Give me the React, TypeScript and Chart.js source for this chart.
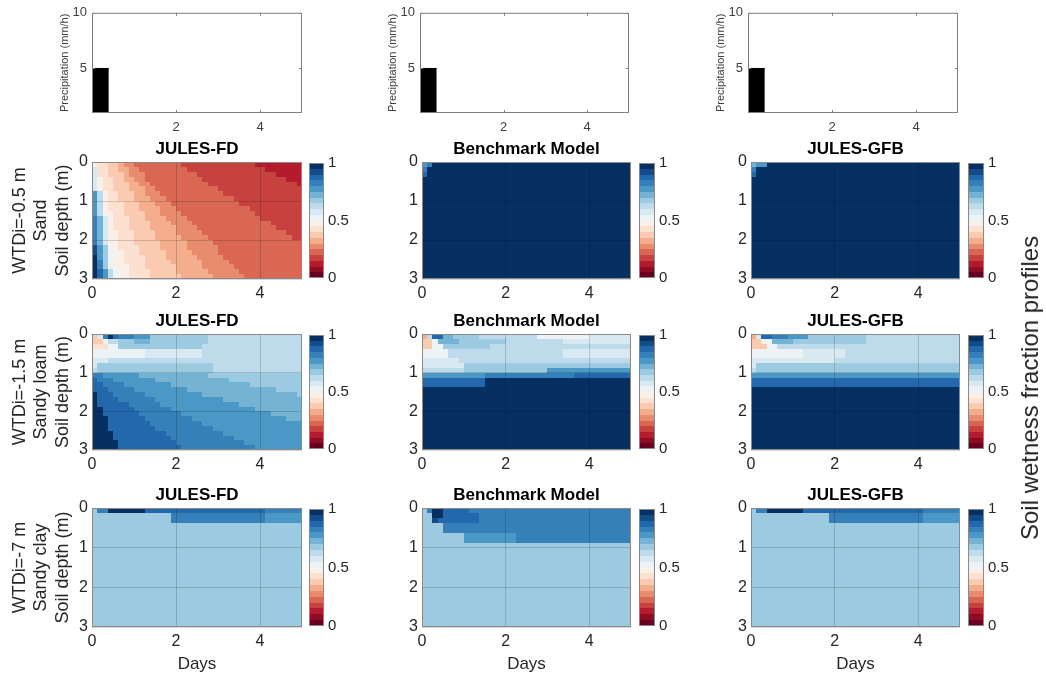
import React, { useEffect, useRef } from 'react';
import { Chart, registerables } from 'chart.js';

Chart.register(...registerables);

const FONT = '"Liberation Sans", Arial, Helvetica, sans-serif';

// ---------------- data ----------------
const DAYS_MAX = 5;
const DEPTH_MAX = 3;
const DAY_TICKS = [0, 2, 4];
const DEPTH_TICKS = [0, 1, 2, 3];
const COLORBAR_TICKS = [0, 0.5, 1];

const PRECIP_DAYS = [0, 0.4];
const PRECIP_MM_H = [5, 5];
const PRECIP_DAY_TICKS = [2, 4];
const PRECIP_TICKS = [5, 10];
const PRECIP_MIN = 1;
const PRECIP_MAX = 10;

const MODEL_TITLES = ['JULES-FD', 'Benchmark Model', 'JULES-GFB'];
const ROW_LABELS = [
  ['WTDi=-0.5 m', 'Sand', 'Soil depth (m)'],
  ['WTDi=-1.5 m', 'Sandy loam', 'Soil depth (m)'],
  ['WTDi=-7 m', 'Sandy clay', 'Soil depth (m)'],
];
const RIGHT_LABEL = 'Soil wetness fraction profiles';
const X_LABEL = 'Days';
const PRECIP_LABEL = 'Precipitation (mm/h)';

// 20-class red-blue colour scale, class a = 0-0.05 ... class t = 0.95-1
const RDBU_20 = [
  '#67001f', '#8e0d25', '#b41c2d', '#c7423f', '#d96753', '#e98c6e', '#f5ae8d', '#facab1', '#fce1d1', '#f9f0ea',
  '#edf2f5', '#d9e9f1', '#bddbea', '#9ccae1', '#75b3d4', '#4b98c6', '#3580b9', '#2368ad', '#144c88', '#053061',
];

// Soil wetness classes: one string per 0.125 m depth row (top to bottom),
// run-length coded as <class letter><number of 0.125-day cells>.
const SAND_FD = [
  'j1i2h2g1f2e9d14c9',
  'l1i2h2g2f2e9d15c7',
  'l1i2h3g1f3e10d15c5',
  'l1j1i2h2g2f2e11d16c3',
  'l1j1i2h3g2f2e11d17c1',
  'l1j1i2h3g3f2e12d16',
  'p1m1j1i2h3g2f3e12d15',
  'p1m1j1i2h3g3f3e13d13',
  'p1m1j1i3h3g3f3e13d12',
  'p1m1j1i3h3g4f3e14d10',
  'p1m1j2i2h4g3f4e14d9',
  'q1o1l1j1i3h3g4f4e14d8',
  'q1o1l1j1i3h4g4f4e15d6',
  'q1o1l1j1i3h4g5f4e15d5',
  'q1o1l1j2i3h4g4f5e16d3',
  'q1o1l1j2i3h4g5f5e16d2',
  'q1o1l1j2i3h5g5f5e17',
  's1p1n1k1j1i4h4g5f6e16',
  's1p1n1k1j2i3h5g5f5e16',
  't1p1n1k1j2i4h4g6f5e15',
  't1q1n1k1j2i4h5g6f5e14',
  't1q1n1k1j3i3h6g5f6e13',
  't1r1p1m1k1j2i4h5g6f6e12',
  't1r1p1m1k1j2i4h6g6f6e11',
];
const SAND_BENCH = [
  'p1q1t38', 'q1t39', 'r1t39', 't40', 't40', 't40', 't40', 't40', 't40', 't40', 't40', 't40',
  't40', 't40', 't40', 't40', 't40', 't40', 't40', 't40', 't40', 't40', 't40', 't40',
];
const SAND_GFB = [
  'o1p2t37', 'q1t39', 'r1t39', 't40', 't40', 't40', 't40', 't40', 't40', 't40', 't40', 't40',
  't40', 't40', 't40', 't40', 't40', 't40', 't40', 't40', 't40', 't40', 't40', 't40',
];
const LOAM_FD = [
  'h1l1q1t1r1q3p3n11m18',
  'h2k1m2n3o3n11m18',
  'i3k2n16m19',
  'k10l11m19',
  'k10l11m19',
  'l3m37',
  'l1n22m17',
  'm1n22m17',
  'q2p7o13n18',
  'r1q3p8o14n14',
  'r2q4p9o15n10',
  'r3q5p10o17n5',
  't1r3q6p11o18n1',
  't1r4q7p13o15',
  't1r6q6p15o12',
  't2r6q7p16o9',
  't2r7q8p17o6',
  't3r7q9p18o3',
  't3r8q10p19',
  't3r9q11p17',
  't4r10q11p15',
  't4r11q12p13',
  't5r11q13p11',
  't5r12q14p9',
];
const LOAM_BENCH = [
  'g1m1r2o2n5m11k10l8',
  'h2k1o4n9m11l13',
  'h2k2n9m27',
  'k5m22l13',
  'k5m22l13',
  'l7m33',
  'l8n32',
  'm8n16p16',
  'p12q17r11',
  'r12t28',
  'r12t28',
  't40', 't40', 't40', 't40', 't40', 't40', 't40', 't40', 't40', 't40', 't40', 't40', 't40',
];
const LOAM_GFB = [
  'g1l1r2q3p4n11m18',
  'h2k2o4n14m18',
  'h3k2m35',
  'k10l8m22',
  'k10l8m22',
  'l16m24',
  'l1n39',
  'm1n39',
  'p40',
  'r40',
  'r40',
  't40', 't40', 't40', 't40', 't40', 't40', 't40', 't40', 't40', 't40', 't40', 't40', 't40',
];
const CLAY_FD = [
  'n1q2t7r23q7', 'n15q18p7', 'n15q18p7',
  'n40', 'n40', 'n40', 'n40', 'n40', 'n40', 'n40', 'n40', 'n40', 'n40', 'n40', 'n40', 'n40', 'n40',
  'n40', 'n40', 'n40', 'n40', 'n40', 'n40', 'n40',
];
const CLAY_BENCH = [
  'n1q1t2r5q31',
  'n2t2r7q29',
  'n2s1r8q29',
  'n4q36',
  'n4q36',
  'n8p10q22',
  'n8p10q22',
  'n40', 'n40', 'n40', 'n40', 'n40', 'n40', 'n40', 'n40', 'n40', 'n40', 'n40', 'n40', 'n40', 'n40',
  'n40', 'n40', 'n40',
];
const CLAY_GFB = [
  'n1q2t7r23q7', 'n15q18p7', 'n15q18p7',
  'n40', 'n40', 'n40', 'n40', 'n40', 'n40', 'n40', 'n40', 'n40', 'n40', 'n40', 'n40', 'n40', 'n40',
  'n40', 'n40', 'n40', 'n40', 'n40', 'n40', 'n40',
];

const HEATMAPS = [
  [SAND_FD, SAND_BENCH, SAND_GFB],
  [LOAM_FD, LOAM_BENCH, LOAM_GFB],
  [CLAY_FD, CLAY_BENCH, CLAY_GFB],
];

// ---------------- layout ----------------
const COLS = [
  { plotL: 92, plotR: 302, cbL: 309, cbR: 324, prL: 92, prR: 302 },
  { plotL: 422, plotR: 631, cbL: 639, cbR: 655, prL: 420, prR: 629 },
  { plotL: 751, plotR: 960, cbL: 968, cbR: 984, prL: 748, prR: 958 },
];
const ROWS = [
  { top: 162, bottom: 279 },
  { top: 334, bottom: 450 },
  { top: 508, bottom: 627 },
];
const PR_TOP = 10;
const PR_BOTTOM = 113;

const TICK_COLOR = '#262626';
const FRAME_COLOR = '#8a8a8a';
const GRID_COLOR = 'rgba(0,0,0,0.16)';

function decodeRow(row: string): number[] {
  const out: number[] = [];
  const re = /([a-t])(\d+)/g;
  let m: RegExpExecArray | null;
  while ((m = re.exec(row)) !== null) {
    const lvl = m[1].charCodeAt(0) - 97;
    const n = parseInt(m[2], 10);
    for (let i = 0; i < n; i++) out.push(lvl);
  }
  return out;
}

const fixTicks = (vals: number[]) => (s: any) => {
  s.ticks = vals.map((v) => ({ value: v }));
};
const plainLabel = (v: any) => `${v}`;

function framePlugin(color: string, inward: boolean) {
  return {
    id: 'frame',
    afterDraw(chart: any) {
      const { ctx, chartArea: a } = chart;
      ctx.save();
      ctx.strokeStyle = color;
      ctx.lineWidth = 1;
      ctx.strokeRect(a.left + 0.5, a.top + 0.5, a.right - a.left - 1, a.bottom - a.top - 1);
      if (inward) {
        const L = 3;
        ctx.beginPath();
        chart.scales.x.ticks.forEach((t: any) => {
          const px = Math.round(chart.scales.x.getPixelForValue(t.value)) + 0.5;
          ctx.moveTo(px, a.bottom);
          ctx.lineTo(px, a.bottom - L);
          ctx.moveTo(px, a.top);
          ctx.lineTo(px, a.top + L);
        });
        chart.scales.y.ticks.forEach((t: any) => {
          const py = Math.round(chart.scales.y.getPixelForValue(t.value)) + 0.5;
          ctx.moveTo(a.left, py);
          ctx.lineTo(a.left + L, py);
          ctx.moveTo(a.right, py);
          ctx.lineTo(a.right - L, py);
        });
        ctx.stroke();
      }
      ctx.restore();
    },
  };
}

function heatmapPlugin(rows: string[]) {
  return {
    id: 'heatmap',
    beforeDatasetsDraw(chart: any) {
      const xs = chart.scales.x;
      const ys = chart.scales.y;
      const ctx = chart.ctx;
      const nz = rows.length;
      ctx.save();
      rows.forEach((row, k) => {
        const cells = decodeRow(row);
        const nt = cells.length;
        const yA = Math.round(ys.getPixelForValue((k * DEPTH_MAX) / nz));
        const yB = Math.round(ys.getPixelForValue(((k + 1) * DEPTH_MAX) / nz));
        cells.forEach((lvl, j) => {
          const xA = Math.round(xs.getPixelForValue((j * DAYS_MAX) / nt));
          const xB = Math.round(xs.getPixelForValue(((j + 1) * DAYS_MAX) / nt));
          ctx.fillStyle = RDBU_20[lvl];
          ctx.fillRect(xA, Math.min(yA, yB), xB - xA, Math.abs(yB - yA));
        });
      });
      ctx.restore();
    },
  };
}

function titlePlugin(text: string) {
  return {
    id: 'panelTitle',
    afterDraw(chart: any) {
      const { ctx, chartArea: a } = chart;
      ctx.save();
      ctx.font = `bold 17px ${FONT}`;
      ctx.fillStyle = '#000';
      ctx.textAlign = 'center';
      ctx.textBaseline = 'middle';
      ctx.fillText(text, (a.left + a.right) / 2, a.top - 13);
      ctx.restore();
    },
  };
}

function colorbarPlugin() {
  return {
    id: 'colorbar',
    beforeDatasetsDraw(chart: any) {
      const ys = chart.scales.y;
      const { ctx, chartArea: a } = chart;
      const n = RDBU_20.length;
      ctx.save();
      RDBU_20.forEach((c, i) => {
        const yA = Math.round(ys.getPixelForValue(i / n));
        const yB = Math.round(ys.getPixelForValue((i + 1) / n));
        ctx.fillStyle = c;
        ctx.fillRect(a.left, Math.min(yA, yB), a.right - a.left, Math.abs(yB - yA));
      });
      ctx.restore();
    },
  };
}

type Spec = { left: number; top: number; width: number; height: number; config: any };

function buildSpecs(): Spec[] {
  const specs: Spec[] = [];
  const base = { animation: false, responsive: false, events: [] as string[] };
  const noPlug = { legend: { display: false }, tooltip: { enabled: false }, title: { display: false } };

  // precipitation panels
  COLS.forEach((col) => {
    const YW = 45;
    const XH = 30;
    const w = col.prR - col.prL;
    const h = PR_BOTTOM - PR_TOP;
    specs.push({
      left: col.prL - YW,
      top: 0,
      width: YW + w + 4,
      height: PR_TOP + h + XH,
      config: {
        type: 'line',
        data: {
          datasets: [
            {
              data: PRECIP_DAYS.map((d, i) => ({ x: d, y: PRECIP_MM_H[i] })),
              borderColor: '#000',
              backgroundColor: '#000',
              borderWidth: 1,
              pointRadius: 0,
              fill: 'start',
              tension: 0,
            },
          ],
        },
        options: {
          ...base,
          layout: { padding: { top: PR_TOP, right: 4, bottom: 0, left: 0 } },
          plugins: noPlug,
          scales: {
            x: {
              type: 'linear',
              min: 0,
              max: DAYS_MAX,
              afterBuildTicks: fixTicks(PRECIP_DAY_TICKS),
              afterFit: (s: any) => { s.height = XH; },
              grid: { display: false, drawTicks: false },
              border: { display: false },
              ticks: { padding: 7, color: '#404040', font: { size: 13, family: FONT }, maxRotation: 0, callback: plainLabel },
            },
            y: {
              type: 'linear',
              min: PRECIP_MIN,
              max: PRECIP_MAX,
              afterBuildTicks: fixTicks(PRECIP_TICKS),
              afterFit: (s: any) => { s.width = YW; },
              grid: { display: false, drawTicks: false },
              border: { display: false },
              ticks: { padding: 5, color: '#404040', font: { size: 13, family: FONT }, callback: plainLabel },
              title: {
                display: true,
                text: PRECIP_LABEL,
                color: '#404040',
                font: { size: 11, family: FONT },
                padding: { top: 11, bottom: 0 },
              },
            },
          },
        },
        plugins: [framePlugin('#808080', true)],
      },
    });
  });

  // heatmaps + colorbars
  ROWS.forEach((row, r) => {
    COLS.forEach((col, c) => {
      const YW = c === 0 ? col.plotL : 40;
      const XH = r === 2 ? 50 : 26;
      const PT = 30;
      const w = col.plotR - col.plotL;
      const h = row.bottom - row.top;
      specs.push({
        left: col.plotL - YW,
        top: row.top - PT,
        width: YW + w + 2,
        height: PT + h + XH,
        config: {
          type: 'scatter',
          data: { datasets: [] },
          options: {
            ...base,
            layout: { padding: { top: PT, right: 2, bottom: 0, left: 0 } },
            plugins: noPlug,
            scales: {
              x: {
                type: 'linear',
                min: 0,
                max: DAYS_MAX,
                afterBuildTicks: fixTicks(DAY_TICKS),
                afterFit: (s: any) => { s.height = XH; },
                grid: { color: GRID_COLOR, z: 1, drawTicks: false },
                border: { display: false },
                ticks: { padding: 5, color: TICK_COLOR, font: { size: 16, family: FONT }, maxRotation: 0, callback: plainLabel },
                title: r === 2
                  ? { display: true, text: X_LABEL, color: TICK_COLOR, font: { size: 17, family: FONT }, padding: { top: 0, bottom: 2 } }
                  : { display: false },
              },
              y: {
                type: 'linear',
                reverse: true,
                min: 0,
                max: DEPTH_MAX,
                afterBuildTicks: fixTicks(DEPTH_TICKS),
                afterFit: (s: any) => { s.width = YW; },
                grid: { color: GRID_COLOR, z: 1, drawTicks: false },
                border: { display: false },
                ticks: { padding: 4, color: TICK_COLOR, font: { size: 16, family: FONT }, callback: plainLabel },
                title: c === 0
                  ? { display: true, text: ROW_LABELS[r], color: TICK_COLOR, font: { size: 18, family: FONT, lineHeight: 1.2 }, padding: { top: 9, bottom: 0 } }
                  : { display: false },
              },
            },
          },
          plugins: [heatmapPlugin(HEATMAPS[r][c]), framePlugin(FRAME_COLOR, false), titlePlugin(MODEL_TITLES[c])],
        },
      });

      // colorbar
      const CW = col.cbR - col.cbL;
      const LW = 40;
      specs.push({
        left: col.cbL,
        top: row.top - 12,
        width: CW + LW,
        height: h + 24,
        config: {
          type: 'scatter',
          data: { datasets: [] },
          options: {
            ...base,
            layout: { padding: { top: 12, right: 0, bottom: 12, left: 0 } },
            plugins: noPlug,
            scales: {
              x: { type: 'linear', display: false, min: 0, max: 1 },
              y: {
                type: 'linear',
                position: 'right',
                min: 0,
                max: 1,
                afterBuildTicks: fixTicks(COLORBAR_TICKS),
                afterFit: (s: any) => { s.width = LW; },
                grid: { display: false, drawTicks: false },
                border: { display: false },
                ticks: { padding: 4, color: TICK_COLOR, font: { size: 15, family: FONT }, callback: plainLabel },
              },
            },
          },
          plugins: [colorbarPlugin(), framePlugin(FRAME_COLOR, false)],
        },
      });
    });
  });
  return specs;
}

const SPECS = buildSpecs();

export default function App() {
  const refs = useRef<(HTMLCanvasElement | null)[]>([]);

  useEffect(() => {
    Chart.defaults.font.family = FONT;
    const charts = SPECS.map((sp, i) => {
      const cv = refs.current[i];
      return cv ? new Chart(cv, sp.config) : null;
    });
    return () => {
      charts.forEach((ch) => ch && ch.destroy());
    };
  }, []);

  return (
    <div
      style={{
        position: 'absolute',
        left: 0,
        top: 0,
        width: 1046,
        height: 679,
        overflow: 'hidden',
        background: '#ffffff',
        fontFamily: FONT,
      }}
    >
      {SPECS.map((sp, i) => (
        <canvas
          key={i}
          ref={(el) => {
            refs.current[i] = el;
          }}
          width={sp.width}
          height={sp.height}
          style={{ position: 'absolute', left: sp.left, top: sp.top, width: sp.width, height: sp.height }}
        />
      ))}
      <div
        style={{
          position: 'absolute',
          left: 1030,
          top: 388,
          transform: 'translate(-50%, -50%) rotate(-90deg)',
          whiteSpace: 'nowrap',
          fontSize: 24,
          color: '#262626',
          lineHeight: 1,
        }}
      >
        {RIGHT_LABEL}
      </div>
    </div>
  );
}
